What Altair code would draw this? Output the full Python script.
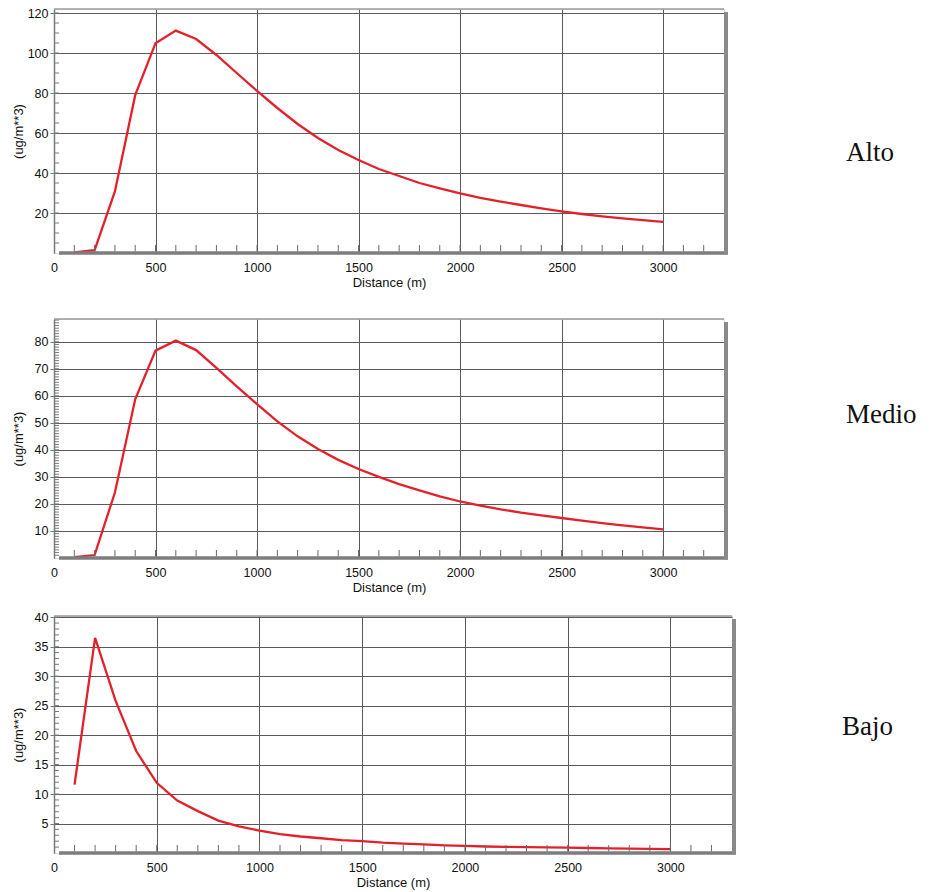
import altair as alt
import pandas as pd

# ---------------- data ----------------
distance = list(range(100, 3001, 100))
alto = [0.3, 1.4, 30.8, 78.9, 104.9, 111.2, 107.0, 99.0, 90.0, 81.0,
        72.5, 64.5, 57.5, 51.5, 46.5, 42.0, 38.5, 35.0, 32.3, 29.8,
        27.6, 25.7, 24.0, 22.3, 20.8, 19.5, 18.3, 17.3, 16.4, 15.6]
medio = [0.3, 1.1, 24.2, 58.7, 76.7, 80.4, 76.9, 70.3, 63.5, 56.9,
         50.5, 45.0, 40.3, 36.3, 32.9, 30.0, 27.3, 25.0, 22.8, 20.9,
         19.4, 18.0, 16.8, 15.8, 14.8, 13.8, 12.9, 12.1, 11.3, 10.6]
bajo = [11.6, 36.5, 25.8, 17.3, 11.9, 8.9, 7.1, 5.5, 4.5, 3.8,
        3.2, 2.8, 2.5, 2.2, 2.0, 1.75, 1.6, 1.45, 1.3, 1.2,
        1.1, 1.05, 1.0, 0.95, 0.9, 0.85, 0.8, 0.75, 0.7, 0.65]
panel_names = ["Alto", "Medio", "Bajo"]
x_ticks = [0, 500, 1000, 1500, 2000, 2500, 3000]
x_minor = list(range(100, 3201, 100))
y_ticks_alto = [20, 40, 60, 80, 100, 120]
y_ticks_medio = [10, 20, 30, 40, 50, 60, 70, 80]
y_ticks_bajo = [5, 10, 15, 20, 25, 30, 35, 40]
x_title = "Distance (m)"
y_title = "(ug/m**3)"

FONT = "Liberation Sans, Arial, sans-serif"
SERIF = "Liberation Serif, Times New Roman, serif"
RED = "#e3212b"
GRID = "#5a5a5a"
FRAME = "#8a8a8a"
TEXT = "#111111"

one_row = alt.Data(values=[{"k": 1}])


def panel(values, name, y_ticks, y_max, minor_step, w, h, lab_x, lab_y, extent, top_pad=0):
    df = pd.DataFrame({"d": distance, "c": values})
    xs = alt.Scale(domain=[0, 3300], nice=False, zero=False)
    ys = alt.Scale(domain=[0, y_max], nice=False, zero=True)
    x_axis = alt.Axis(values=x_ticks, title=x_title, grid=True, gridColor=GRID, gridWidth=1,
                      domain=False, ticks=False, tickSize=0, labelPadding=8,
                      labelFontSize=12.5, labelFont=FONT, labelColor=TEXT, labelFlush=False,
                      labelOverlap=False, format="d",
                      titleFont=FONT, titleFontSize=13, titleFontWeight="normal",
                      titleColor=TEXT, titlePadding=3)
    y_axis = alt.Axis(values=y_ticks, title=y_title, grid=True, gridColor=GRID, gridWidth=1,
                      domain=True, domainColor="#7a7a7a", domainWidth=1.5,
                      ticks=True, tickSize=4, tickColor="#7a7a7a", tickWidth=1,
                      labelPadding=2, labelFontSize=12.5, labelFont=FONT, labelColor=TEXT,
                      labelOverlap=False, format="d",
                      minExtent=extent, maxExtent=extent,
                      titleFont=FONT, titleFontSize=13, titleFontWeight="normal",
                      titleColor=TEXT, titlePadding=3)

    line = alt.Chart(df).mark_line(color=RED, strokeWidth=2.3).encode(
        x=alt.X("d:Q", scale=xs, axis=x_axis),
        y=alt.Y("c:Q", scale=ys, axis=y_axis),
    )

    n_minor = int(round(y_max / minor_step))
    ymin_df = pd.DataFrame({"v": [i * minor_step for i in range(1, n_minor + 1) if i * minor_step < y_max]})
    y_minor_ticks = alt.Chart(ymin_df).mark_rule(color="#7a7a7a", strokeWidth=1).encode(
        y=alt.Y("v:Q", scale=ys, axis=y_axis), x=alt.value(1), x2=alt.value(5)
    )
    xmin_df = pd.DataFrame({"v": x_minor})
    x_minor_ticks = alt.Chart(xmin_df).mark_rule(color="#6a6a6a", strokeWidth=1).encode(
        x=alt.X("v:Q", scale=xs, axis=x_axis), y=alt.value(h - 8), y2=alt.value(h - 1.5)
    )
    bottom_bar = alt.Chart(one_row).mark_rule(color="#7d7d7d", strokeWidth=3.5).encode(
        x=alt.value(5), x2=alt.value(w + 4), y=alt.value(h)
    )
    top_frame = alt.Chart(one_row).mark_rule(color="#9a9a9a", strokeWidth=1.5).encode(
        x=alt.value(0), x2=alt.value(w), y=alt.value(0)
    )
    right_frame = alt.Chart(one_row).mark_rule(color=FRAME, strokeWidth=4).encode(
        x=alt.value(w + 2), y=alt.value(3), y2=alt.value(h + 1.5)
    )
    label = alt.Chart(alt.Data(values=[{"t": name}])).mark_text(
        font=SERIF, fontSize=27, align="left", baseline="middle", color=TEXT
    ).encode(text="t:N", x=alt.value(lab_x), y=alt.value(lab_y))

    layers = [line, y_minor_ticks, x_minor_ticks, bottom_bar, top_frame, right_frame, label]
    if top_pad > 0:
        spacer = alt.Chart(one_row).mark_rule(color="white", strokeWidth=1).encode(
            x=alt.value(0), x2=alt.value(10), y=alt.value(-top_pad)
        )
        layers.append(spacer)
    return alt.layer(*layers).properties(width=w, height=h)


p1 = panel(alto, panel_names[0], y_ticks_alto, 122, 5, 670, 244, 792, 144, 26)
p2 = panel(medio, panel_names[1], y_ticks_medio, 88.4, 1, 670, 239, 792, 96, 26, top_pad=12.25)
p3 = panel(bajo, panel_names[2], y_ticks_bajo, 40.2, 1, 678, 237, 788, 111, 26)

chart = alt.vconcat(p1, p2, p3, spacing=15).properties(
    padding={"left": 3, "top": -2, "right": 0, "bottom": 0}
).configure_view(strokeWidth=0).configure(background="white")

chart.save("out.html", embed_options={"renderer": "svg", "actions": False})
